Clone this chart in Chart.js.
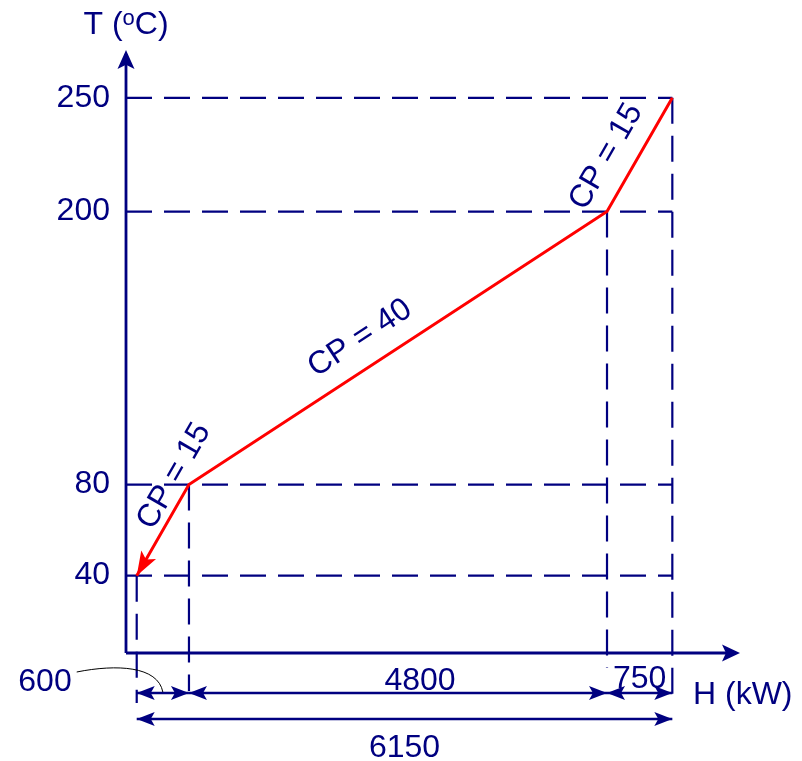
<!DOCTYPE html>
<html>
<head>
<meta charset="utf-8">
<script src="https://cdn.jsdelivr.net/npm/chart.js@4/dist/chart.umd.min.js"></script>
<style>
  html, body { margin: 0; padding: 0; background: #ffffff; }
  #wrap { width: 802px; height: 761px; }
</style>
</head>
<body>
<div id="wrap"><canvas id="c" width="802" height="761"></canvas></div>
<script>
// Hot composite curve: cumulative heat load vs temperature
const enthalpy    = [0, 600, 5400, 6150];   // H (kW)
const temperature = [40, 80, 200, 250];     // T (°C)
const cpValues    = [15, 40, 15];           // heat capacity flow rate per interval
const tempTicks   = [40, 80, 200, 250];
const spanLabels  = ['600', '4800', '750'];
const totalLabel  = '6150';

const NAVY = '#000080';
const RED = '#ff0000';
const FONT = "'Liberation Sans', Arial, Helvetica, sans-serif";
const FS = 32;

// Filled arrowhead with a slightly notched back
function arrowHead(ctx, tx, ty, angle, len, half, color) {
  const ca = Math.cos(angle), sa = Math.sin(angle);
  const bx = tx - ca * len, by = ty - sa * len;
  const nx = tx - ca * len * 0.78, ny = ty - sa * len * 0.78;
  ctx.save();
  ctx.fillStyle = color;
  ctx.beginPath();
  ctx.moveTo(tx, ty);
  ctx.lineTo(bx - sa * half, by + ca * half);
  ctx.lineTo(nx, ny);
  ctx.lineTo(bx + sa * half, by - ca * half);
  ctx.closePath();
  ctx.fill();
  ctx.restore();
}

// Horizontal dimension line with arrowheads at both ends
function dimLine(ctx, xa, xb, y) {
  ctx.save();
  ctx.strokeStyle = NAVY;
  ctx.lineWidth = 2.5;
  ctx.beginPath();
  ctx.moveTo(xa, y);
  ctx.lineTo(xb, y);
  ctx.stroke();
  ctx.restore();
  arrowHead(ctx, xa, y, Math.PI, 18, 7, NAVY);
  arrowHead(ctx, xb, y, 0, 18, 7, NAVY);
}

// Rotated CP label placed along a segment (t = fraction along it, off = px to the upper-left side)
function segmentLabel(ctx, p0, p1, t, off, text) {
  const dx = p1.x - p0.x, dy = p1.y - p0.y;
  const len = Math.hypot(dx, dy);
  const ux = dx / len, uy = dy / len;
  const nx = uy, ny = -ux;
  const cx = p0.x + ux * len * t + nx * off;
  const cy = p0.y + uy * len * t + ny * off;
  ctx.save();
  ctx.translate(cx, cy);
  ctx.rotate(Math.atan2(dy, dx));
  ctx.fillStyle = NAVY;
  ctx.font = FS + 'px ' + FONT;
  ctx.textAlign = 'center';
  ctx.textBaseline = 'middle';
  ctx.fillText(text, 0, 0);
  ctx.restore();
}

const guides = {
  id: 'guides',
  beforeDatasetsDraw(chart) {
    const { ctx, chartArea: a, scales: { x, y } } = chart;
    const xEnd = x.getPixelForValue(enthalpy[enthalpy.length - 1]);
    const drop = [50, 38, 15, 50];
    ctx.save();
    ctx.strokeStyle = NAVY;
    ctx.lineWidth = 2.2;
    ctx.setLineDash([26, 12]);
    // dashed temperature levels
    temperature.forEach(t => {
      const py = y.getPixelForValue(t);
      ctx.beginPath();
      ctx.moveTo(a.left, py);
      ctx.lineTo(xEnd, py);
      ctx.stroke();
    });
    // dashed enthalpy drops
    enthalpy.forEach((h, i) => {
      const px = x.getPixelForValue(h);
      ctx.beginPath();
      ctx.moveTo(px, y.getPixelForValue(temperature[i]));
      ctx.lineTo(px, a.bottom + drop[i]);
      ctx.stroke();
    });
    ctx.restore();
  },
  afterDatasetsDraw(chart) {
    const { ctx, chartArea: a, scales: { x, y } } = chart;
    const pts = enthalpy.map((h, i) => ({ x: x.getPixelForValue(h), y: y.getPixelForValue(temperature[i]) }));

    // arrowhead at the cold end of the curve
    arrowHead(ctx, pts[0].x, pts[0].y, Math.atan2(pts[0].y - pts[1].y, pts[0].x - pts[1].x), 24, 8.5, RED);

    // axes
    ctx.save();
    ctx.strokeStyle = NAVY;
    ctx.lineWidth = 2.8;
    ctx.beginPath();
    ctx.moveTo(a.left, a.bottom);
    ctx.lineTo(a.left, a.top + 4);
    ctx.moveTo(a.left, a.bottom);
    ctx.lineTo(a.right - 4, a.bottom);
    ctx.stroke();
    ctx.restore();
    arrowHead(ctx, a.left, a.top, -Math.PI / 2, 19, 8.5, NAVY);
    arrowHead(ctx, a.right, a.bottom, 0, 18, 8.5, NAVY);

    // CP labels
    segmentLabel(ctx, pts[0], pts[1], 1.0, 17, 'CP = ' + cpValues[0]);
    segmentLabel(ctx, pts[1], pts[2], 0.447, 29, 'CP = ' + cpValues[1]);
    segmentLabel(ctx, pts[2], pts[3], 0.36, 28, 'CP = ' + cpValues[2]);

    // axis titles
    ctx.save();
    ctx.fillStyle = NAVY;
    ctx.textBaseline = 'alphabetic';
    ctx.textAlign = 'left';
    const big = FS + 'px ' + FONT, small = '22px ' + FONT;
    ctx.font = big;
    const p1 = 'T (', p2 = 'C)';
    const w1 = ctx.measureText(p1).width, w3 = ctx.measureText(p2).width;
    ctx.font = small;
    const w2 = ctx.measureText('o').width;
    const tx = a.left - (w1 + w2 + w3) / 2;
    ctx.font = big;
    ctx.fillText(p1, tx, 34);
    ctx.font = small;
    ctx.fillText('o', tx + w1, 25);
    ctx.font = big;
    ctx.fillText(p2, tx + w1 + w2, 34);
    ctx.fillText('H (kW)', a.right - 47, a.bottom + 51);
    ctx.restore();

    // dimension lines
    const row1 = a.bottom + 40, row2 = a.bottom + 66;
    for (let i = 0; i < pts.length - 1; i++) dimLine(ctx, pts[i].x, pts[i + 1].x, row1);
    dimLine(ctx, pts[0].x, pts[pts.length - 1].x, row2);

    ctx.save();
    ctx.fillStyle = NAVY;
    ctx.font = big;
    ctx.textBaseline = 'alphabetic';
    ctx.textAlign = 'center';
    ctx.fillText(spanLabels[1], (pts[1].x + pts[2].x) / 2 + 22, a.bottom + 37);
    ctx.fillText(spanLabels[2], (pts[2].x + pts[3].x) / 2, a.bottom + 35);
    ctx.fillText(totalLabel, (pts[0].x + pts[3].x) / 2, a.bottom + 104);
    ctx.textAlign = 'right';
    ctx.fillText(spanLabels[0], pts[0].x - 65, a.bottom + 38);
    ctx.restore();

    // leader from the small-span label to its dimension line
    const lx0 = pts[0].x - 60, ly0 = a.bottom + 19;
    const lx1 = (pts[0].x + pts[1].x) / 2, ly1 = row1 - 1;
    ctx.save();
    ctx.strokeStyle = '#000000';
    ctx.lineWidth = 1;
    ctx.beginPath();
    ctx.moveTo(lx0, ly0);
    ctx.bezierCurveTo(lx0 + 40, ly0 - 8, lx1 - 5, ly0 - 6, lx1, ly1);
    ctx.stroke();
    ctx.restore();
  }
};

new Chart(document.getElementById('c'), {
  type: 'scatter',
  data: {
    datasets: [{
      data: enthalpy.map((h, i) => ({ x: h, y: temperature[i] })),
      showLine: true,
      borderColor: RED,
      borderWidth: 3,
      pointRadius: 0,
      tension: 0,
      fill: false
    }]
  },
  options: {
    responsive: false,
    animation: false,
    devicePixelRatio: 1,
    layout: { padding: { top: 50, right: 62, left: 0, bottom: 0 } },
    plugins: { legend: { display: false }, tooltip: { enabled: false } },
    scales: {
      x: {
        type: 'linear',
        min: -123,
        max: 6927,
        grid: { display: false },
        border: { display: false },
        ticks: { display: false },
        afterFit(s) { s.height = 108; }
      },
      y: {
        type: 'linear',
        min: 6,
        max: 271,
        afterBuildTicks(s) { s.ticks = tempTicks.map(v => ({ value: v })); },
        grid: { display: false, drawTicks: false },
        border: { display: false },
        ticks: { color: NAVY, font: { family: FONT, size: FS }, padding: 16 },
        afterFit(s) { s.width = 126; }
      }
    }
  },
  plugins: [guides]
});
</script>
</body>
</html>
